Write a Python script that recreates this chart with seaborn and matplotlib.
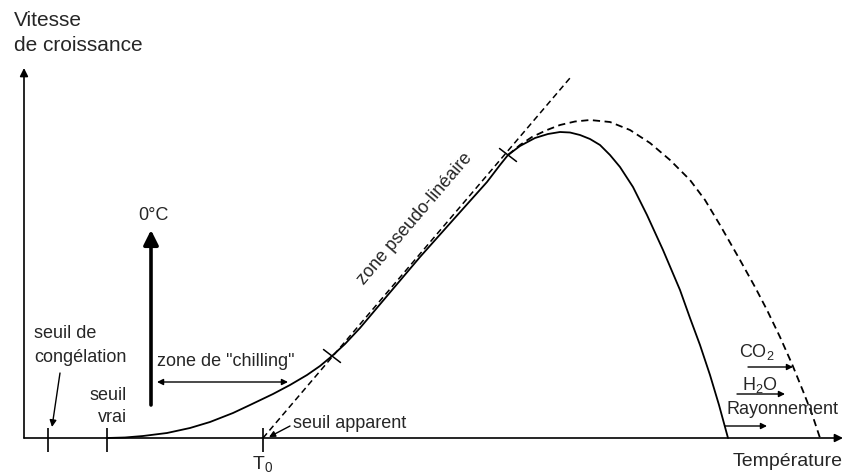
import numpy as np
import pandas as pd
import seaborn as sns
import matplotlib
matplotlib.use("Agg")
import matplotlib.pyplot as plt

# courbe de vitesse de croissance (unités arbitraires)
temp_reel = [83, 101, 119, 143, 166, 186, 209, 226, 249, 266, 283, 296, 308, 321,
             336, 363, 396, 429, 446, 463, 476, 484, 496, 511, 524, 536, 546, 556,
             566, 576, 586, 596, 609, 623, 639, 656, 666, 676, 686, 695, 704]
vit_reel = [0, 0.5, 2, 5, 10, 16, 25, 33, 44, 53, 63, 72, 82, 94,
            110, 142, 181, 218, 237, 256, 273, 283, 292, 300, 304, 306, 305.5, 303,
            299, 293, 283, 271, 251, 223, 188, 148, 120, 93, 63, 33, 0]

# courbe potentielle (tirets)
temp_pot = [484, 496, 508, 523, 536, 551, 566, 586, 606, 626, 646, 666, 681,
            696, 716, 731, 743, 756, 768, 779, 788, 796]
vit_pot = [283, 293, 301, 308, 313, 316.5, 318, 316, 308, 295, 278, 258, 238,
           213, 178, 151, 128, 101, 74, 47, 24, 0]

# droite de la zone pseudo-linéaire
temp_lin = [239, 546]
vit_lin = [0, 360]

# bornes de la zone pseudo-linéaire
borne_t = [308, 484]
borne_v = [82, 283]

# seuils sur l'axe des températures
seuils = [24, 83, 239]

sns.set_style("white")
plt.rcParams['font.family'] = ['Liberation Sans', 'DejaVu Sans']
plt.rcParams['mathtext.default'] = 'regular'

fig = plt.figure(figsize=(8.52, 4.74), dpi=100)
ax = fig.add_axes([0, 0, 1, 1])
ax.set_xlim(-24, 828)
ax.set_ylim(-36, 438)
ax.axis('off')

df_reel = pd.DataFrame({'t': temp_reel, 'v': vit_reel})
df_pot = pd.DataFrame({'t': temp_pot, 'v': vit_pot})
df_lin = pd.DataFrame({'t': temp_lin, 'v': vit_lin})

sns.lineplot(data=df_reel, x='t', y='v', ax=ax, color='black', lw=1.3,
             estimator=None, sort=False)
sns.lineplot(data=df_pot, x='t', y='v', ax=ax, color='black', lw=1.3,
             estimator=None, sort=False, linestyle=(0, (4, 2.5)))
sns.lineplot(data=df_lin, x='t', y='v', ax=ax, color='black', lw=1.1,
             estimator=None, sort=False, linestyle=(0, (4, 2.5)))
ax.set_xlabel('')
ax.set_ylabel('')

# petites croix aux bornes
for t, v in zip(borne_t, borne_v):
    ax.plot([t - 8.5, t + 8.5], [v + 6.5, v - 6.5], color='black', lw=1.1)

# axes avec flèches
arr = dict(arrowstyle='-|>', color='black', lw=1.2, mutation_scale=12,
           shrinkA=0, shrinkB=0)
ax.annotate('', xy=(0, 370), xytext=(0, 0), arrowprops=arr)
ax.annotate('', xy=(819, 0), xytext=(0, 0), arrowprops=arr)
ax.vlines(seuils, -14, 10, color='black', lw=1.2)

fs = 13
ax.text(-10, 418, 'Vitesse', fontsize=15, ha='left', va='center')
ax.text(-10, 393, 'de croissance', fontsize=15, ha='left', va='center')
ax.text(819, -24, 'Température', fontsize=14, ha='right', va='center')
ax.text(239, -26, r'$\mathregular{T_0}$', fontsize=14, ha='center', va='center')

ax.text(10, 105, 'seuil de', fontsize=fs, ha='left', va='center')
ax.text(10, 81, 'congélation', fontsize=fs, ha='left', va='center')
ax.annotate('', xy=(28, 11), xytext=(36, 65),
            arrowprops=dict(arrowstyle='-|>', color='black', lw=1,
                            mutation_scale=10, shrinkA=0, shrinkB=0))
ax.text(103, 43, 'seuil', fontsize=fs, ha='right', va='center')
ax.text(103, 21, 'vrai', fontsize=fs, ha='right', va='center')

# flèche 0°C
ax.annotate('', xy=(127, 208), xytext=(127, 33),
            arrowprops=dict(arrowstyle='-|>', color='black', lw=2.6,
                            mutation_scale=22, shrinkA=0, shrinkB=0))
ax.text(129, 223, '0°C', fontsize=fs, ha='center', va='center')

ax.text(133, 76, 'zone de "chilling"', fontsize=fs, ha='left', va='center')
ax.annotate('', xy=(264, 56), xytext=(133, 56),
            arrowprops=dict(arrowstyle='<|-|>', color='black', lw=1,
                            mutation_scale=9, shrinkA=0, shrinkB=0))

ax.text(391, 219, 'zone pseudo-linéaire', fontsize=fs, ha='center', va='center',
        rotation=49.5, rotation_mode='anchor')

ax.text(269, 14, 'seuil apparent', fontsize=fs, ha='left', va='center')
ax.annotate('', xy=(245, 1), xytext=(266, 12),
            arrowprops=dict(arrowstyle='-|>', color='black', lw=1,
                            mutation_scale=9, shrinkA=0, shrinkB=0))

small = dict(arrowstyle='-|>', color='black', lw=1, mutation_scale=9,
             shrinkA=0, shrinkB=0)
ax.text(733, 86, r'$\mathregular{CO_2}$', fontsize=fs, ha='center', va='center')
ax.annotate('', xy=(769, 71), xytext=(724, 71), arrowprops=small)
ax.text(736, 53, r'$\mathregular{H_2O}$', fontsize=fs, ha='center', va='center')
ax.annotate('', xy=(761, 44), xytext=(713, 44), arrowprops=small)
ax.text(703, 28, 'Rayonnement', fontsize=fs, ha='left', va='center')
ax.annotate('', xy=(743, 12), xytext=(701, 12), arrowprops=small)

fig.savefig('out.png', dpi=100)
